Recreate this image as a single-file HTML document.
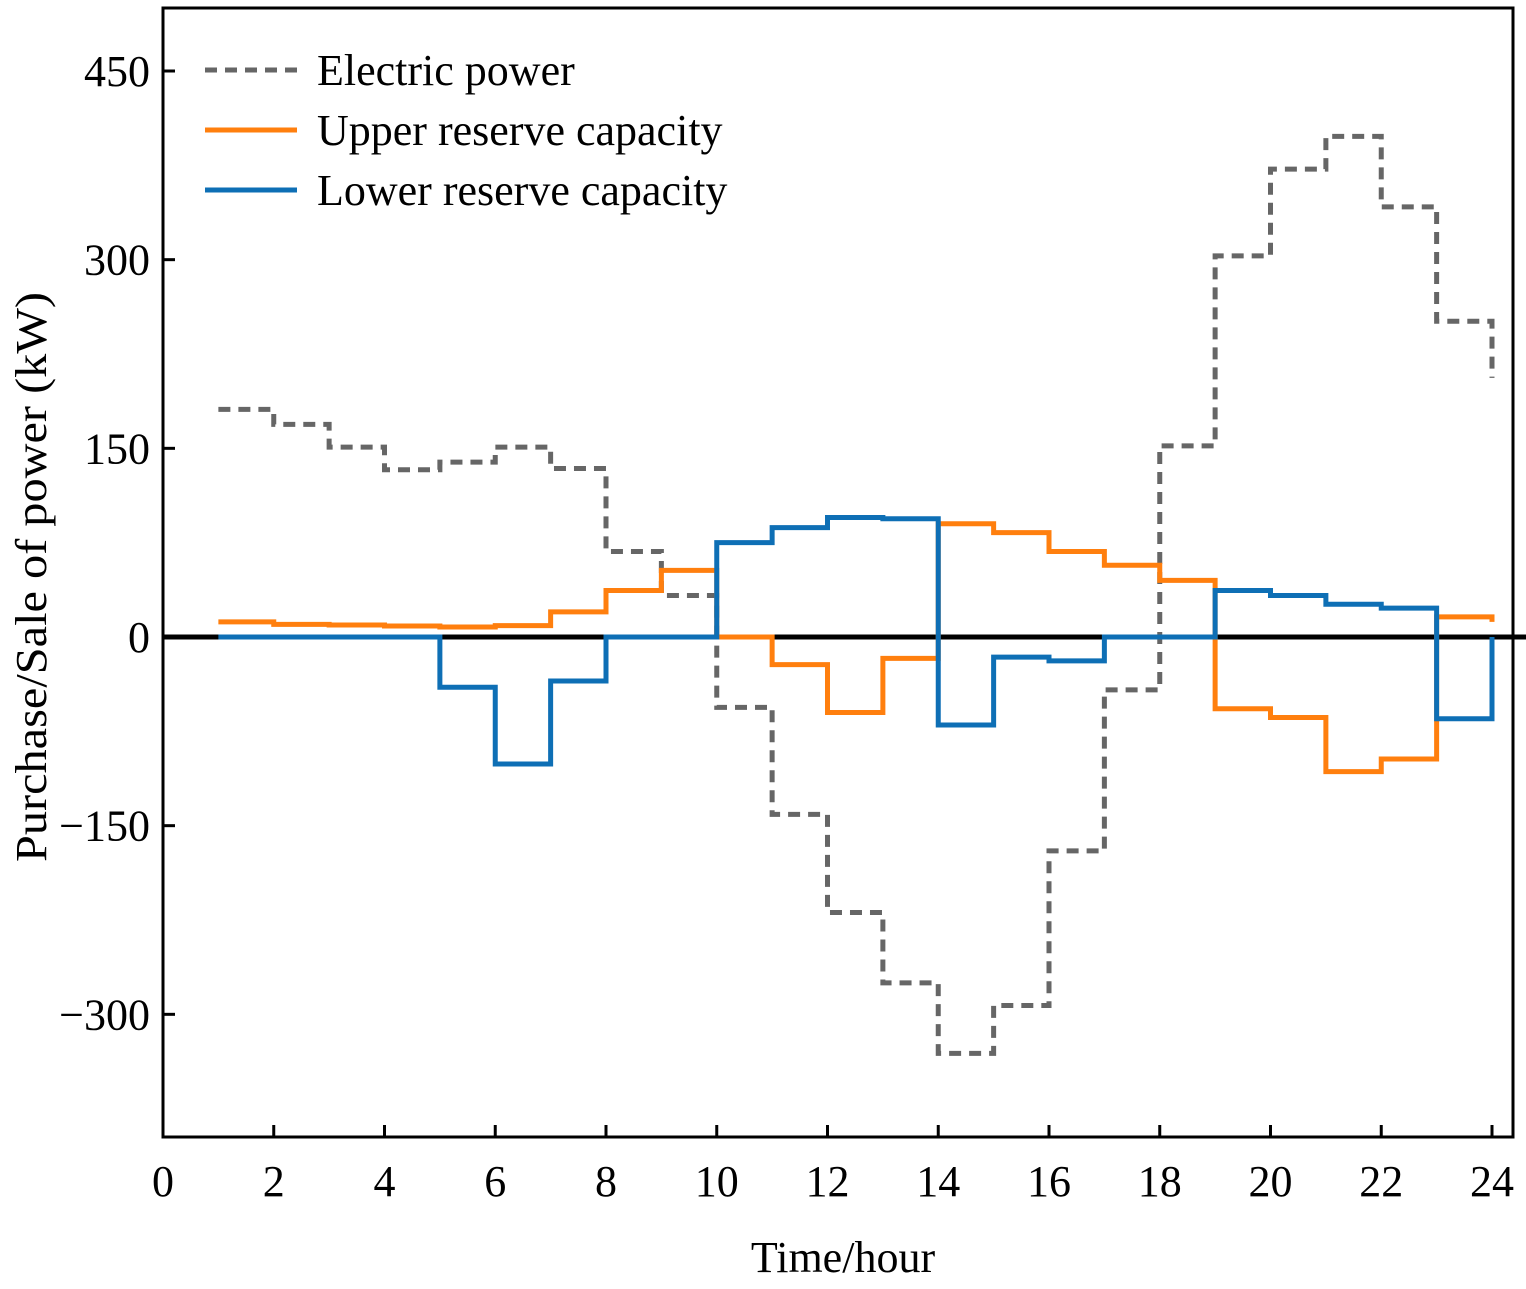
<!DOCTYPE html>
<html><head><meta charset="utf-8"><style>
body{margin:0;background:#fff}
svg text{font-family:"Liberation Serif",serif;font-size:44px;fill:#000}
</style></head><body>
<svg id="chart" width="1526" height="1284" xmlns="http://www.w3.org/2000/svg">
<g id="series"></g>
<rect x="163" y="8" width="1350" height="1129" fill="none" stroke="#000" stroke-width="3"/>
<g id="axes"></g>
<text x="843" y="1272" text-anchor="middle">Time/hour</text>
<text transform="translate(46,577) rotate(-90)" text-anchor="middle" textLength="570" lengthAdjust="spacingAndGlyphs">Purchase/Sale of power (kW)</text>
<g>
<g><line x1="205" y1="70" x2="297" y2="70" stroke="#666" stroke-width="5" stroke-dasharray="12,8"/><text x="317" y="85">Electric power</text></g>
<g><line x1="205" y1="130" x2="297" y2="130" stroke="#ff7f0e" stroke-width="5"/><text x="317" y="145">Upper reserve capacity</text></g>
<g><line x1="205" y1="190" x2="297" y2="190" stroke="#0e6fb5" stroke-width="5"/><text x="317" y="205">Lower reserve capacity</text></g>
</g>
</svg>
<script>
const hours=[1,2,3,4,5,6,7,8,9,10,11,12,13,14,15,16,17,18,19,20,21,22,23,24];
const electric=[181,169,151,133,139,151,134,68,33,-56,-141,-219,-275,-331,-293,-170,-42,152,303,372,398,342,251,206];
const upper=[12,10,9.5,8.7,8,9,20,37,53,0,-22,-60,-17,90,83,68,57,45,-57,-64,-107,-97,16,12];
const lower=[0,0,0,0,-40,-101,-35,0,0,75,87,95,94,-70,-16,-19,0,0,37,33,26,23,-65,0];
const xTicks=[0,2,4,6,8,10,12,14,16,18,20,22,24];
const yTicks=[-300,-150,0,150,300,450];
const NS="http://www.w3.org/2000/svg";
const X=v=>163+v*(1492-163)/24;
const Y=v=>637-v*(637-71)/450;
const axes=document.getElementById('axes');
const ser=document.getElementById('series');
function mk(t,a,p){const e=document.createElementNS(NS,t);for(const k in a)e.setAttribute(k,a[k]);p.appendChild(e);return e;}
xTicks.forEach(v=>{
 const l=mk('line',{x1:X(v),x2:X(v),y1:1137,y2:1125,stroke:'#000','stroke-width':3},axes);
 
 
 const t=mk('text',{x:X(v),y:1196,'text-anchor':'middle'},axes);t.textContent=v;
 
 
});
yTicks.forEach(v=>{
 const l=mk('line',{x1:163,x2:175,y1:Y(v),y2:Y(v),stroke:'#000','stroke-width':3},axes);
 
 
 const t=mk('text',{x:150,y:Y(v)+15,'text-anchor':'end'},axes);t.textContent=v<0?'\u2212'+(-v):v;
 
 
});
function step(vals){let d='';vals.forEach((v,i)=>{d+=(i==0?'M':'L')+X(hours[i])+','+Y(vals[i]);if(i<vals.length-1)d+='L'+X(hours[i+1])+','+Y(v);});return d;}
const zl=mk('line',{x1:163,x2:1526,y1:Y(0),y2:Y(0),stroke:'#000','stroke-width':5},ser);


const pe=mk('path',{d:step(electric),fill:'none',stroke:'#666','stroke-width':5,'stroke-dasharray':'12,8'},ser);


const pu=mk('path',{d:step(upper),fill:'none',stroke:'#ff7f0e','stroke-width':5},ser);


const pl=mk('path',{d:step(lower),fill:'none',stroke:'#0e6fb5','stroke-width':5},ser);


</script>
</body></html>
